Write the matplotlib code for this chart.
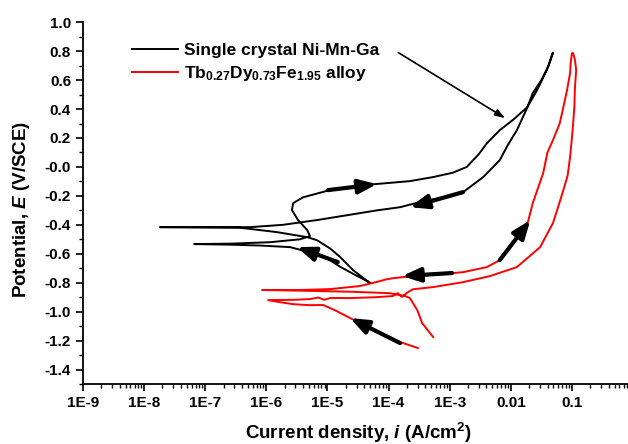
import numpy as np
import matplotlib
matplotlib.use("Agg")
import matplotlib.pyplot as plt
from matplotlib.ticker import MultipleLocator, LogLocator, FixedLocator, FixedFormatter, NullFormatter

plt.rcParams['font.family'] = ['Liberation Sans', 'DejaVu Sans']
plt.rcParams['font.weight'] = 'bold'
plt.rcParams['mathtext.fontset'] = 'custom'
plt.rcParams['mathtext.rm'] = 'Liberation Sans'
plt.rcParams['mathtext.it'] = 'Liberation Sans:italic:bold'
plt.rcParams['mathtext.bf'] = 'Liberation Sans:bold'

# Ni-Mn-Ga curve, log10(i) and E (forward, then reverse)
nimnga_logi = [-4.30, -4.55, -4.79, -5.01, -5.24, -5.61, -6.10, -6.59, -7.18,
               -6.59, -5.94, -5.45, -5.285, -5.33, -5.48, -5.58, -5.56, -5.40, -4.96,
               -4.42, -3.65, -3.27, -2.95, -2.72, -2.52, -2.39, -2.18, -1.95, -1.73,
               -1.57, -1.41, -1.31,
               -1.38, -1.50, -1.64, -1.73, -1.90, -2.05, -2.18, -2.45, -2.78, -3.05,
               -3.37, -3.81, -4.19, -4.70, -5.17, -5.73, -6.27, -7.74,
               -6.43, -5.83, -5.33, -5.17, -4.95, -4.79, -4.58, -4.34]
nimnga_E = [-0.80, -0.745, -0.69, -0.63, -0.595, -0.554, -0.543, -0.537, -0.533,
            -0.530, -0.52, -0.50, -0.478, -0.436, -0.367, -0.298, -0.25, -0.21, -0.16,
            -0.126, -0.098, -0.07, -0.04, 0.0, 0.09, 0.164, 0.254, 0.33, 0.413,
            0.53, 0.67, 0.79,
            0.70, 0.60, 0.51, 0.41, 0.254, 0.15, 0.047, -0.07, -0.174, -0.21,
            -0.23, -0.278, -0.30, -0.335, -0.367, -0.40, -0.416, -0.416,
            -0.42, -0.45, -0.485, -0.506, -0.565, -0.623, -0.713, -0.79]

# Tb-Dy-Fe curve
tdf_logi = [-3.52, -3.81, -4.22, -4.63, -4.88, -5.07, -5.30, -5.56, -5.78, -5.97,
            -5.55, -5.285, -5.15, -5.05, -4.95, -4.63, -4.20, -3.93, -3.85, -3.78, -3.70,
            -3.60, -3.27, -2.78, -2.34, -1.90, -1.52, -1.31, -1.22, -1.14, -1.07, -1.03,
            -1.00, -0.98, -0.96, -0.95, -0.93, -0.95, -0.98,
            -1.00, -1.02, -1.03, -1.08, -1.14, -1.20, -1.31, -1.40, -1.47, -1.55, -1.64,
            -1.72, -2.18, -2.39, -2.78, -3.32, -3.76, -3.95, -4.05, -4.14, -4.47, -4.96,
            -5.45, -6.07,
            -5.45, -4.63, -3.98, -3.73, -3.65, -3.53, -3.45, -3.27]
tdf_E = [-1.251, -1.21, -1.127, -1.044, -0.989, -0.954, -0.955, -0.948, -0.934, -0.92,
         -0.918, -0.913, -0.902, -0.918, -0.905, -0.906, -0.900, -0.892, -0.872, -0.898, -0.870,
         -0.845, -0.83, -0.796, -0.754, -0.692, -0.554, -0.388, -0.27, -0.16, -0.06, 0.068,
         0.20, 0.30, 0.413, 0.55, 0.67, 0.74, 0.786,
         0.786, 0.72, 0.648, 0.53, 0.413, 0.30, 0.185, 0.10, -0.043, -0.14, -0.25,
         -0.381, -0.644, -0.692, -0.727, -0.747, -0.761, -0.770, -0.778, -0.789, -0.823, -0.844,
         -0.85, -0.85,
         -0.855, -0.862, -0.872, -0.892, -0.906, -0.989, -1.079, -1.175]

# scan direction arrows: (log i tail, E tail, log i head, E head)
scan_arrows = [(-4.99, -0.16, -4.19, -0.119),
               (-2.78, -0.174, -3.65, -0.278),
               (-4.83, -0.657, -5.50, -0.554),
               (-2.96, -0.733, -3.78, -0.754),
               (-2.18, -0.644, -1.68, -0.367),
               (-3.81, -1.217, -4.63, -1.044)]

xtick_vals = [1e-9, 1e-8, 1e-7, 1e-6, 1e-5, 1e-4, 1e-3, 1e-2, 1e-1, 1]
xtick_labels = ['1E-9', '1E-8', '1E-7', '1E-6', '1E-5', '1E-4', '1E-3', '0.01', '0.1', '1']

labels = ['Single crystal Ni-Mn-Ga', r'Tb$_{0.27}$Dy$_{0.73}$Fe$_{1.95}$ alloy']

fig = plt.figure(figsize=(6.28, 4.44), dpi=100)
ax = fig.add_axes([0.132, 0.135, 0.876, 0.815])

ax.plot(10 ** np.array(nimnga_logi), nimnga_E, color='black', lw=1.4, label=labels[0])
ax.plot(10 ** np.array(tdf_logi), tdf_E, color='red', lw=1.4, label=labels[1])

for a in scan_arrows:
    ax.annotate('', xy=(10 ** a[2], a[3]), xytext=(10 ** a[0], a[1]),
                arrowprops=dict(arrowstyle='-|>,head_length=0.9,head_width=0.35',
                                lw=3, color='black', mutation_scale=12,
                                shrinkA=0, shrinkB=0))

# pointer from the legend to the Ni-Mn-Ga curve
ax.annotate('', xy=(10 ** -2.09, 0.337), xytext=(10 ** -3.84, 0.79),
            arrowprops=dict(arrowstyle='-|>,head_length=0.6,head_width=0.2',
                            lw=1.2, color='black', mutation_scale=10,
                            shrinkA=0, shrinkB=0))

ax.set_xscale('log')
ax.set_xlim(1e-9, 1)
ax.set_ylim(-1.5, 1.0)

ax.xaxis.set_major_locator(FixedLocator(xtick_vals))
ax.xaxis.set_major_formatter(FixedFormatter(xtick_labels))
ax.xaxis.set_minor_locator(LogLocator(base=10, subs=np.arange(2, 10), numticks=20))
ax.xaxis.set_minor_formatter(NullFormatter())
ax.yaxis.set_minor_locator(MultipleLocator(0.1))
ax.set_yticks(np.arange(-1.4, 1.01, 0.2))
ax.yaxis.set_major_formatter(plt.FuncFormatter(lambda v, p: '%.1f' % v))

ax.tick_params(which='major', direction='out', length=5, width=1.2, labelsize=11)
ax.tick_params(which='minor', direction='out', length=3, width=1)
ax.spines['top'].set_visible(False)
ax.spines['right'].set_visible(False)
ax.spines['left'].set_linewidth(1.3)
ax.spines['bottom'].set_linewidth(1.3)

ax.set_xlabel(r'Current density, $\mathit{i}$ (A/cm$^2$)', fontsize=13.5, fontweight='bold', labelpad=8)
ax.set_ylabel(r'Potential, $\mathit{E}$ (V/SCE)', fontsize=13.5, fontweight='bold')
ax.yaxis.set_label_coords(-0.092, 0.482)

ax.legend(loc='upper left', bbox_to_anchor=(0.06, 0.985), frameon=False,
          fontsize=12.5, handlelength=2.7, handletextpad=0.35, labelspacing=0.35)

fig.savefig('out.png', dpi=100)
